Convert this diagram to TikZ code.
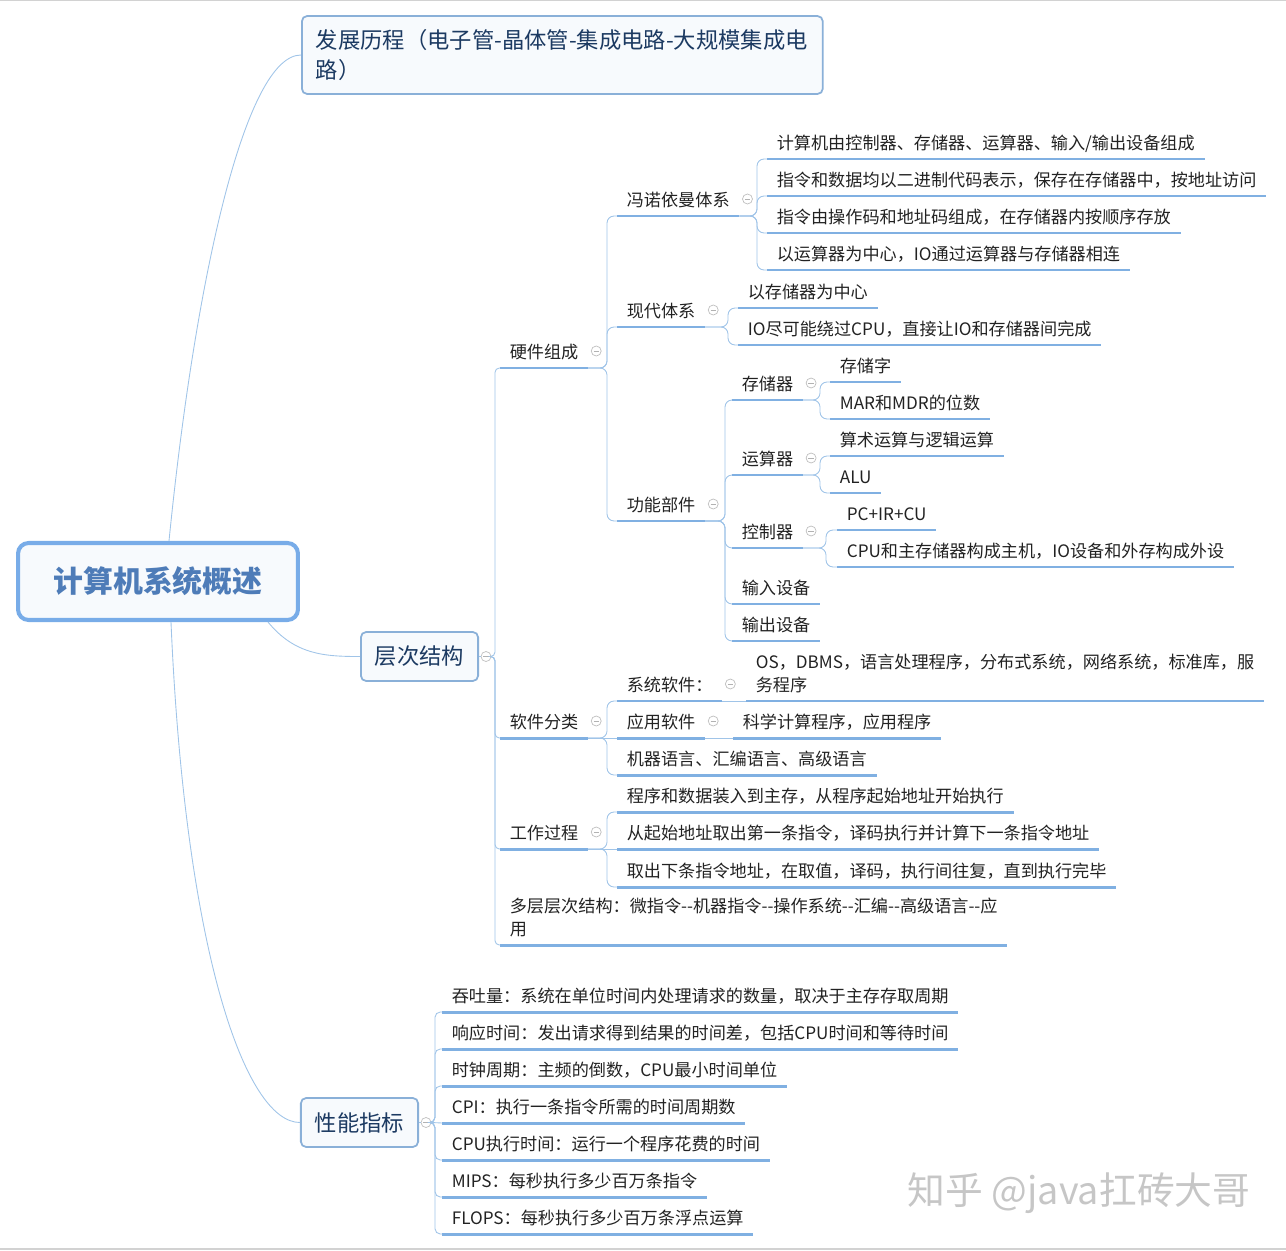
\documentclass[tikz,border=0pt]{standalone}
\usepackage{fontspec}
\newfontfamily\cjk{Noto Sans CJK SC}
\usetikzlibrary{calc}

\definecolor{ulblue}{RGB}{128,176,226}
\definecolor{lnblue}{RGB}{160,196,232}
\definecolor{rootblue}{RGB}{120,172,232}
\definecolor{roottext}{RGB}{78,124,184}
\definecolor{boxblue}{RGB}{138,176,216}
\definecolor{boxfill}{RGB}{247,250,253}
\definecolor{boxtext}{RGB}{28,58,98}
\definecolor{leaftext}{RGB}{34,34,34}

\begin{document}
\begin{tikzpicture}[x=0.02cm,y=-0.02cm,
        line/.style={draw=lnblue,line width=0.5pt},
        branch/.style={line,rounded corners=4pt},
        uline/.style={draw=ulblue,line width=1.7pt},
        topic/.style={anchor=south west,inner xsep=0.19cm,inner ysep=1.5pt,align=left,
            font=\cjk\fontsize{9.75}{13}\selectfont,text=leaftext,execute at end node=\strut,
            append after command={(\tikzlastnode.south west) edge[uline] (\tikzlastnode.south east)}},
        fold/.style={circle,draw=gray!50,fill=white,line width=0.4pt,inner sep=0pt,minimum size=0.2cm,
            path picture={\draw[gray!60,line width=0.4pt] ([xshift=1.3pt]path picture bounding box.west) -- ([xshift=-1.3pt]path picture bounding box.east);}},
        main node/.style={draw=boxblue,line width=1pt,rounded corners=3pt,fill=boxfill,text=boxtext,
            font=\cjk\fontsize{12.7}{17}\selectfont,inner xsep=0.28cm,minimum height=0.98cm},
        root node/.style={draw=rootblue,line width=2.3pt,rounded corners=6pt,fill=boxfill,text=roottext,
            font=\cjk\bfseries\fontsize{17}{20}\selectfont,minimum width=5.6cm,minimum height=1.54cm},
        wmark/.style={text=gray!45,font=\cjk\fontsize{21.5}{24}\selectfont}]

    \useasboundingbox (0,0) rectangle (1286,1251);
    \draw[gray!35,line width=0.8pt] (0,0.5) -- (1286,0.5);
    \draw[gray!35,line width=0.8pt] (0,1249) -- (1286,1249);

    \node[root node] (root) at (158,581.5) {计算机系统概述};
    \node[main node,anchor=west,text width=9.86cm,align=left,minimum height=1.56cm] (hist) at (301,55)
        {\mbox{发展历程（电子管-晶体管-集成电路-大规模集成电}\\路）};
    \node[main node,minimum width=2.34cm] (struct) at (419.5,656.5) {层次结构};
    \node[main node,minimum width=2.34cm] (perf) at (359.5,1122.5) {性能指标};
    \node[fold] (struct-f) at ($(struct.east)+(7,0)$) {};
    \node[fold] (perf-f) at ($(perf.east)+(7,0)$) {};

    \node[topic] (hw) at (500,368) {硬件组成};
    \node[topic] (sw) at (500,738) {软件分类};
    \node[topic] (proc) at (500,849) {工作过程};
    \node[topic] (multi) at (500,945) {多层层次结构：微指令-{}-机器指令-{}-操作系统-{}-汇编-{}-高级语言-{}-应\\用};

    \node[topic] (vn) at (617,216) {冯诺依曼体系};
    \node[topic] (modern) at (617,327) {现代体系};
    \node[topic] (parts) at (617,521) {功能部件};
    \node[topic] (vn1) at (767,159) {计算机由控制器、存储器、运算器、输入/输出设备组成};
    \node[topic] (vn2) at (767,196) {指令和数据均以二进制代码表示，保存在存储器中，按地址访问};
    \node[topic] (vn3) at (767,233) {指令由操作码和地址码组成，在存储器内按顺序存放};
    \node[topic] (vn4) at (767,270) {以运算器为中心，IO通过运算器与存储器相连};
    \node[topic] (mod1) at (738,308) {以存储器为中心};
    \node[topic] (mod2) at (738,345) {IO尽可能绕过CPU，直接让IO和存储器间完成};
    \node[topic] (mem) at (732,400) {存储器};
    \node[topic] (arith) at (732,475) {运算器};
    \node[topic] (ctrl) at (732,548) {控制器};
    \node[topic] (input) at (732,604) {输入设备};
    \node[topic] (output) at (732,641) {输出设备};
    \node[topic] (mem1) at (830,382) {存储字};
    \node[topic] (mem2) at (830,419) {MAR和MDR的位数};
    \node[topic] (ar1) at (830,456) {算术运算与逻辑运算};
    \node[topic] (ar2) at (830,493) {ALU};
    \node[topic] (ct1) at (837,530) {PC+IR+CU};
    \node[topic] (ct2) at (837,567) {CPU和主存储器构成主机，IO设备和外存构成外设};

    \node[topic] (sys) at (617,701) {系统软件：};
    \node[topic] (app) at (617,738) {应用软件};
    \node[topic] (lang) at (617,775) {机器语言、汇编语言、高级语言};
    \node[topic] (sys1) at (746,701) {OS，DBMS，语言处理程序，分布式系统，网络系统，标准库，服\\务程序};
    \node[topic] (app1) at (733,738) {科学计算程序，应用程序};
    \node[topic] (pr1) at (617,812) {程序和数据装入到主存，从程序起始地址开始执行};
    \node[topic] (pr2) at (617,849) {从起始地址取出第一条指令，译码执行并计算下一条指令地址};
    \node[topic] (pr3) at (617,887) {取出下条指令地址，在取值，译码，执行间往复，直到执行完毕};

    \node[topic] (pf1) at (442,1012) {吞吐量：系统在单位时间内处理请求的数量，取决于主存存取周期};
    \node[topic] (pf2) at (442,1049) {响应时间：发出请求得到结果的时间差，包括CPU时间和等待时间};
    \node[topic] (pf3) at (442,1086) {时钟周期：主频的倒数，CPU最小时间单位};
    \node[topic] (pf4) at (442,1123) {CPI：执行一条指令所需的时间周期数};
    \node[topic] (pf5) at (442,1160) {CPU执行时间：运行一个程序花费的时间};
    \node[topic] (pf6) at (442,1197) {MIPS：每秒执行多少百万条指令};
    \node[topic] (pf7) at (442,1234) {FLOPS：每秒执行多少百万条浮点运算};

    \node[fold] (hw-f) at ($(hw.south east)+(8,-17)$) {};
    \node[fold] (sw-f) at ($(sw.south east)+(8,-17)$) {};
    \node[fold] (proc-f) at ($(proc.south east)+(8,-17)$) {};
    \node[fold] (vn-f) at ($(vn.south east)+(8,-17)$) {};
    \node[fold] (modern-f) at ($(modern.south east)+(8,-17)$) {};
    \node[fold] (parts-f) at ($(parts.south east)+(8,-17)$) {};
    \node[fold] (mem-f) at ($(mem.south east)+(8,-17)$) {};
    \node[fold] (arith-f) at ($(arith.south east)+(8,-17)$) {};
    \node[fold] (ctrl-f) at ($(ctrl.south east)+(8,-17)$) {};
    \node[fold] (sys-f) at ($(sys.south east)+(8,-17)$) {};
    \node[fold] (app-f) at ($(app.south east)+(8,-17)$) {};

    \node[wmark] (wm) at (1079,1193) {知乎 @java扛砖大哥};

    \draw[line] ($(root.north)+(11,0)$) .. controls (195,280) and (245,55) .. (hist.west);
    \draw[line] ($(root.south east)+(-32,0)$) .. controls (295,655) and (325,656.5) .. (struct.west);
    \draw[line] ($(root.south)+(13,0)$) .. controls (185,950) and (245,1122.5) .. (perf.west);
    \draw[line] (struct.east) -- (struct-f.west);
    \draw[line] (perf.east) -- (perf-f.west);

    \draw[line,rounded corners=2.5pt] (struct-f.east) -| ([xshift=-0.1cm]hw.south west) -- (hw.south west);
    \draw[line,rounded corners=2.5pt] (struct-f.east) -| ([xshift=-0.1cm]sw.south west) -- (sw.south west);
    \draw[line,rounded corners=2.5pt] (struct-f.east) -| ([xshift=-0.1cm]proc.south west) -- (proc.south west);
    \draw[line,rounded corners=2.5pt] (struct-f.east) -| ([xshift=-0.1cm]multi.south west) -- (multi.south west);

    \draw[branch] (hw.south east) -| ([xshift=-0.2cm]vn.south west) -- (vn.south west);
    \draw[branch] (hw.south east) -| ([xshift=-0.2cm]modern.south west) -- (modern.south west);
    \draw[branch] (hw.south east) -| ([xshift=-0.2cm]parts.south west) -- (parts.south west);
    \draw[branch] (vn.south east) -| ([xshift=-0.2cm]vn1.south west) -- (vn1.south west);
    \draw[branch] (vn.south east) -| ([xshift=-0.2cm]vn2.south west) -- (vn2.south west);
    \draw[branch] (vn.south east) -| ([xshift=-0.2cm]vn3.south west) -- (vn3.south west);
    \draw[branch] (vn.south east) -| ([xshift=-0.2cm]vn4.south west) -- (vn4.south west);
    \draw[branch] (modern.south east) -| ([xshift=-0.2cm]mod1.south west) -- (mod1.south west);
    \draw[branch] (modern.south east) -| ([xshift=-0.2cm]mod2.south west) -- (mod2.south west);
    \draw[branch] (parts.south east) -| ([xshift=-0.14cm]mem.south west) -- (mem.south west);
    \draw[branch] (parts.south east) -| ([xshift=-0.14cm]arith.south west) -- (arith.south west);
    \draw[branch] (parts.south east) -| ([xshift=-0.14cm]ctrl.south west) -- (ctrl.south west);
    \draw[branch] (parts.south east) -| ([xshift=-0.14cm]input.south west) -- (input.south west);
    \draw[branch] (parts.south east) -| ([xshift=-0.14cm]output.south west) -- (output.south west);
    \draw[branch] (mem.south east) -| ([xshift=-0.2cm]mem1.south west) -- (mem1.south west);
    \draw[branch] (mem.south east) -| ([xshift=-0.2cm]mem2.south west) -- (mem2.south west);
    \draw[branch] (arith.south east) -| ([xshift=-0.2cm]ar1.south west) -- (ar1.south west);
    \draw[branch] (arith.south east) -| ([xshift=-0.2cm]ar2.south west) -- (ar2.south west);
    \draw[branch] (ctrl.south east) -| ([xshift=-0.22cm]ct1.south west) -- (ct1.south west);
    \draw[branch] (ctrl.south east) -| ([xshift=-0.22cm]ct2.south west) -- (ct2.south west);

    \draw[branch] (sw.south east) -| ([xshift=-0.2cm]sys.south west) -- (sys.south west);
    \draw[line] (sw.south east) -- (app.south west);
    \draw[branch] (sw.south east) -| ([xshift=-0.2cm]lang.south west) -- (lang.south west);
    \draw[line] (sys.south east) -- (sys1.south west);
    \draw[line] (app.south east) -- (app1.south west);
    \draw[branch] (proc.south east) -| ([xshift=-0.2cm]pr1.south west) -- (pr1.south west);
    \draw[line] (proc.south east) -- (pr2.south west);
    \draw[branch] (proc.south east) -| ([xshift=-0.2cm]pr3.south west) -- (pr3.south west);

    \draw[line,rounded corners=3pt] (perf-f.east) -| ([xshift=-0.14cm]pf1.south west) -- (pf1.south west);
    \draw[line,rounded corners=3pt] (perf-f.east) -| ([xshift=-0.14cm]pf2.south west) -- (pf2.south west);
    \draw[line,rounded corners=3pt] (perf-f.east) -| ([xshift=-0.14cm]pf3.south west) -- (pf3.south west);
    \draw[line] (perf-f.east) -- (pf4.south west);
    \draw[line,rounded corners=3pt] (perf-f.east) -| ([xshift=-0.14cm]pf5.south west) -- (pf5.south west);
    \draw[line,rounded corners=3pt] (perf-f.east) -| ([xshift=-0.14cm]pf6.south west) -- (pf6.south west);
    \draw[line,rounded corners=3pt] (perf-f.east) -| ([xshift=-0.14cm]pf7.south west) -- (pf7.south west);
\end{tikzpicture}
\end{document}
